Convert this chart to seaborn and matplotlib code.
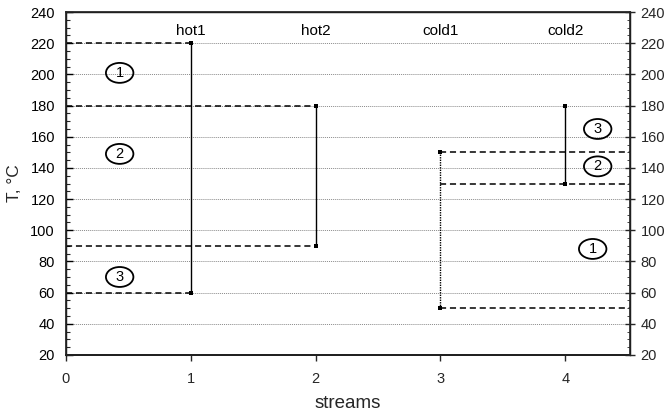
import matplotlib
matplotlib.use("Agg")
import matplotlib.pyplot as plt
from matplotlib.patches import Ellipse
from matplotlib.ticker import MultipleLocator
import seaborn as sns
import pandas as pd

sns.set_theme(style="white")
plt.rcParams["font.family"] = ["Liberation Sans", "DejaVu Sans"]

# Stream temperature ranges (supply -> target), °C
streams = ["hot1", "hot2", "cold1", "cold2"]
stream_pos = [1, 2, 3, 4]
t_start = [220, 180, 50, 130]
t_end = [60, 90, 150, 180]

# Temperature interval boundaries drawn as dashed lines
hot_levels = [220, 180, 90, 60]
hot_level_ends = [1, 2, 2, 1]
cold_levels = [150, 130, 50]
cold_level_start = [3, 3, 3]

# Interval numbers (x, T)
hot_intervals = ["1", "2", "3"]
hot_interval_x = [0.43, 0.43, 0.43]
hot_interval_t = [201, 149, 70]
cold_intervals = ["3", "2", "1"]
cold_interval_x = [4.26, 4.26, 4.22]
cold_interval_t = [165, 141, 88]

x_max = 4.52

rows = []
for name, x, a, b in zip(streams, stream_pos, t_start, t_end):
    rows.append({"stream": name, "x": x, "T": a})
    rows.append({"stream": name, "x": x, "T": b})
df = pd.DataFrame(rows)

fig = plt.figure(figsize=(6.7, 4.18), dpi=100)
ax = fig.add_axes([0.0985, 0.151, 0.842, 0.820])

ax.set_xlim(0, x_max)
ax.set_ylim(20, 240)

# Horizontal dotted grid
for t in range(40, 240, 20):
    ax.axhline(t, color="#8a8a8a", lw=0.7, ls=(0, (1, 1)), zorder=0)

# Dashed interval boundaries
ax.hlines(hot_levels, 0, hot_level_ends, colors="black", lw=1.1,
          linestyles=(0, (4, 2.5)), zorder=2)
ax.hlines(cold_levels, cold_level_start, x_max, colors="black", lw=1.1,
          linestyles=(0, (4, 2.5)), zorder=2)

# Stream lines
styles = {"hot1": "-", "hot2": "-", "cold1": (0, (1, 0.8)), "cold2": "-"}
for name in streams:
    sub = df[df["stream"] == name]
    sns.lineplot(data=sub, x="x", y="T", orient="y", estimator=None, sort=False,
                 color="black", lw=1.0, linestyle=styles[name], marker="s",
                 markersize=3.5, markeredgewidth=0, ax=ax, zorder=3)

# Stream names
for name, x in zip(streams, stream_pos):
    ax.text(x, 228, name, ha="center", va="center", fontsize=11, color="black")

# Circled interval numbers
def circled(x, t, label):
    ax.add_patch(Ellipse((x, t), 0.22, 12.8, fill=False, ec="black", lw=1.3, zorder=4))
    ax.text(x, t, label, ha="center", va="center", fontsize=10.5, color="black", zorder=5)

for lab, x, t in zip(hot_intervals, hot_interval_x, hot_interval_t):
    circled(x, t, lab)
for lab, x, t in zip(cold_intervals, cold_interval_x, cold_interval_t):
    circled(x, t, lab)

# Axes styling
ax.set_xticks([0, 1, 2, 3, 4])
ax.set_xticklabels(["0", "1", "2", "3", "4"])
ax.yaxis.set_major_locator(MultipleLocator(20))
ax.yaxis.set_minor_locator(MultipleLocator(5))
ax.tick_params(axis="y", which="major", direction="in", length=5, width=1,
               labelsize=10.5, colors="black", left=True, pad=8)
ax.tick_params(axis="y", which="minor", direction="in", length=3, width=0.8,
               left=True)
ax.tick_params(axis="x", direction="out", length=4, width=1, labelsize=10.5,
               bottom=True, pad=8)
ax.set_xlabel("streams", fontsize=13.5, labelpad=7)
ax.set_ylabel("T, °C", fontsize=12.5, labelpad=6)
for s in ax.spines.values():
    s.set_color("black")
    s.set_linewidth(1.0)
ax.spines["bottom"].set_linewidth(1.4)

ax2 = ax.twinx()
ax2.set_ylim(20, 240)
ax2.yaxis.set_major_locator(MultipleLocator(20))
ax2.yaxis.set_minor_locator(MultipleLocator(5))
ax2.tick_params(axis="y", which="major", direction="inout", length=7, width=1,
                labelsize=10.5, right=True, pad=4)
ax2.tick_params(axis="y", which="minor", direction="in", length=2, width=0.6,
                right=True)
ax2.spines["right"].set_linewidth(1.2)
ax2.grid(False)

fig.savefig("out.png", dpi=100)
